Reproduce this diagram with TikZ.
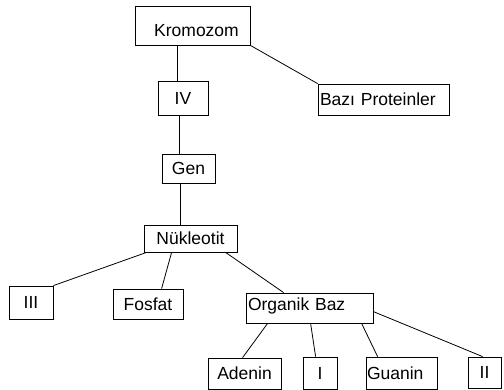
\documentclass[tikz,border=0pt]{standalone}
\usepackage{fontspec}
\setmainfont{Liberation Sans}
\usetikzlibrary{calc}
\begin{document}
\begin{tikzpicture}[x=1pt,y=-1pt,
  box/.style={draw, line width=0.8pt, inner sep=0pt, font=\fontsize{17.5}{20}\selectfont},
  lbox/.style={box, align=left, inner xsep=2pt},
  conn/.style={line width=0.8pt}]
\useasboundingbox (0,0) rectangle (504,390);
\node[box, minimum width=115, minimum height=39] (kro) at (192.5,25.5) {\raisebox{-5pt}[\height][\depth]{\hspace*{8pt}Kromozom}};
\node[box, minimum width=50, minimum height=34] (iv) at (183,98) {IV};
\node[lbox, text width=127, minimum height=31] (baz) at (383.5,99.5) {Bazı Proteinler};
\node[box, minimum width=53, minimum height=29] (gen) at (188.5,168.5) {Gen};
\node[box, minimum width=93, minimum height=27] (nuk) at (190.5,238.5) {Nükleotit};
\node[box, minimum width=44, minimum height=33] (iii) at (31,302.5) {III};
\node[box, minimum width=70, minimum height=30] (fos) at (148,304) {Fosfat};
\node[lbox, text width=123, minimum height=30] (org) at (309.5,308) {\raisebox{2pt}[\height][\depth]{Organik Baz}};
\node[box, minimum width=73, minimum height=31] (ade) at (244.5,373.5) {Adenin};
\node[box, minimum width=34, minimum height=32] (i) at (320,373) {I};
\node[lbox, inner xsep=1pt, text width=69, minimum height=32] (gua) at (401.5,373) {Guanin};
\node[box, minimum width=33, minimum height=31] (ii) at (484.5,372.5) {II};

\draw[conn] ($(kro.south west)+(43,0)$) -- ($(iv.north west)+(20,0)$);
\draw[conn] (kro.south east) -- (baz.north west);
\draw[conn] ($(iv.south west)+(22,0)$) -- ($(gen.north west)+(18,0)$);
\draw[conn] ($(gen.south west)+(19,0)$) -- ($(nuk.north west)+(37,0)$);
\draw[conn] ($(nuk.south west)+(3,0)$) -- (iii.north east);
\draw[conn] ($(nuk.south west)+(28,0)$) -- ($(fos.north west)+(49,0)$);
\draw[conn] ($(nuk.south west)+(82,0)$) -- ($(org.north west)+(38,0)$);
\draw[conn] ($(org.south west)+(22,0)$) -- ($(ade.north west)+(35,0)$);
\draw[conn] ($(org.south west)+(65,0)$) -- ($(i.north west)+(13,0)$);
\draw[conn] ($(org.south west)+(116,0)$) -- ($(gua.north west)+(12,0)$);
\draw[conn] ($(org.north east)+(0,19)$) -- ($(ii.north west)+(15,0)$);
\end{tikzpicture}
\end{document}
